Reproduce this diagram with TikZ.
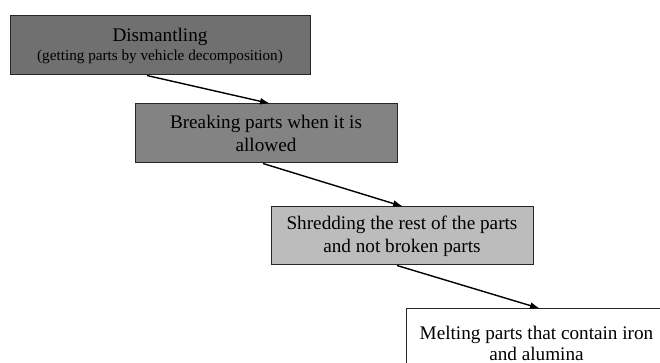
\documentclass[tikz,border=0pt]{standalone}
\usepackage{fontspec}
\setmainfont{Liberation Serif}
\usetikzlibrary{arrows.meta,calc}
\definecolor{boxdark}{HTML}{707070}
\definecolor{boxmid}{HTML}{838383}
\definecolor{boxlight}{HTML}{BCBCBC}
\tikzset{
  >={Latex[length=5pt,width=3.4pt]},
  line/.style={line width=.7pt},
  % process steps
  proc/.style={draw=black!85,line width=.5pt,align=center,inner sep=0pt,
    font=\fontsize{9.6}{11.5}\selectfont},
  % small second line
  note/.style={font=\fontsize{7.6}{9.5}\selectfont}
}

\begin{document}
\begin{tikzpicture}[x=0.5pt,y=-0.5pt]
  \useasboundingbox (0,0) rectangle (660,363);
  \clip (0,0) rectangle (660,363);

  %--- steps (coordinates fixed)
  \node[proc,fill=boxdark,minimum width=150pt,minimum height=29.5pt] (dismantle) at (160,45.5)
    {Dismantling\\[-2pt]{\fontsize{7.6}{9.5}\selectfont(getting parts by vehicle decomposition)}};
  \node[proc,fill=boxmid,minimum width=131pt,minimum height=29.5pt] (breaking) at (266,133.5)
    {Breaking parts when it is\\allowed};
  \node[proc,fill=boxlight,minimum width=131pt,minimum height=29pt] (shredding) at (402,236)
    {Shredding the rest of the parts\\and not broken parts};
  \node[proc,fill=white,minimum width=130pt,minimum height=34pt] (melting) at (536.5,343)
    {Melting parts that contain iron\\[-1pt]and alumina};

  %--- arrows
  \draw[line,->] ($(dismantle.south)+(-13,0)$) -- ($(breaking.north)+(4,0)$);
  \draw[line,->] ($(breaking.south)+(-3,0)$) -- ($(shredding.north)+(1,0)$);
  \draw[line,->] ($(shredding.south)+(-5,0)$) -- ($(melting.north)+(3.5,0)$);
\end{tikzpicture}
\end{document}
